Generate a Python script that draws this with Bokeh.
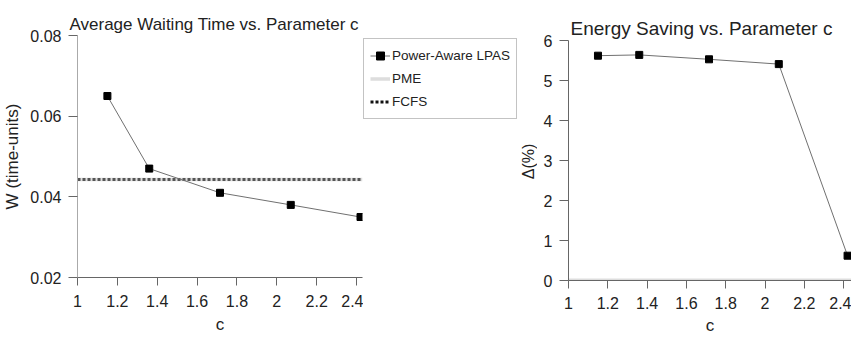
from bokeh.plotting import figure
from bokeh.layouts import row
from bokeh.models import Range1d, Legend, LegendItem, FixedTicker, Title, Label
from bokeh.embed import file_html
from bokeh.resources import INLINE

# ---- data ----
c_values = [1.15, 1.36, 1.715, 2.07, 2.42]
wait_lpas = [0.065, 0.047, 0.041, 0.038, 0.035]
wait_pme = 0.0443
wait_fcfs = 0.0443
energy_lpas = [5.62, 5.64, 5.53, 5.41, 0.62]
energy_pme = 0.0

x_ticks = [1, 1.2, 1.4, 1.6, 1.8, 2, 2.2, 2.4]
x_labels = ["1", "1.2", "1.4", "1.6", "1.8", "2", "2.2", "2.4"]
wait_ticks = [0.02, 0.04, 0.06, 0.08]
wait_labels = ["0.02", "0.04", "0.06", "0.08"]
energy_ticks = [0, 1, 2, 3, 4, 5, 6]
energy_labels = ["0", "1", "2", "3", "4", "5", "6"]
series_names = ["Power-Aware LPAS", "PME", "FCFS"]
titles = ["Average Waiting Time vs. Parameter c", "Energy Saving vs. Parameter c"]

x_min, x_max_left, x_max_right = 1.0, 2.43, 2.44

FONT = "Liberation Sans"
TXT = "#222222"
LPAS_LINE = "#707070"
PME_COLOR = "#dddddd"
FCFS_COLOR = "#555555"


def style(p, yaxis_color, title_text, title_size, title_offset, spacer_size):
    # p.title is a blank spacer next to the frame; the real title sits above it
    p.title.text = " "
    p.title.text_font_size = spacer_size
    p.title.standoff = 0
    t = Title(text=title_text, text_font=FONT, text_font_size=title_size,
              text_font_style="normal", text_color=TXT, align="left",
              vertical_align="top", standoff=0, offset=title_offset)
    p.add_layout(t, "above")
    p.xgrid.visible = False
    p.ygrid.visible = False
    p.outline_line_color = None
    for ax in (p.xaxis[0], p.yaxis[0]):
        ax.major_label_text_font = FONT
        ax.major_label_text_font_size = "16px"
        ax.major_label_text_color = TXT
        ax.axis_label_text_font = FONT
        ax.axis_label_text_font_size = "17px"
        ax.axis_label_text_font_style = "normal"
        ax.axis_label_text_color = TXT
        ax.minor_tick_line_color = None
        ax.major_tick_in = 0
        ax.major_tick_line_color = "#666666"
        ax.axis_line_color = "#666666"
    p.yaxis[0].axis_line_color = yaxis_color
    p.yaxis[0].major_tick_out = 9
    p.yaxis[0].major_label_standoff = 7
    p.xaxis[0].major_tick_out = 8
    p.xaxis[0].major_label_standoff = 9
    p.xaxis[0].axis_label_standoff = 5
    p.xaxis[0].ticker = FixedTicker(ticks=x_ticks)
    p.xaxis[0].major_label_overrides = {t: s for t, s in zip(x_ticks, x_labels)}


# ---- left: waiting time ----
p1 = figure(width=363, height=338, output_backend="svg", toolbar_location=None,
            x_range=Range1d(x_min, x_max_left), y_range=Range1d(wait_ticks[0], wait_ticks[-1]),
            min_border_left=75, min_border_right=1, min_border_top=35, min_border_bottom=61,
            frame_align=False)
style(p1, "#aaaaaa", titles[0], "17px", -8, "3px")
p1.xaxis.axis_label = "c"
p1.yaxis.axis_label = "W (time-units)"
p1.yaxis[0].axis_label_standoff = 5
p1.yaxis[0].ticker = FixedTicker(ticks=wait_ticks)
p1.yaxis[0].major_label_overrides = {t: s for t, s in zip(wait_ticks, wait_labels)}

line_x = [x_min, x_max_left]
p1.line(line_x, [wait_pme, wait_pme], line_color=PME_COLOR, line_width=3.5)
p1.line(line_x, [wait_fcfs, wait_fcfs], line_color=FCFS_COLOR, line_width=3, line_dash="3 2")
p1.line(c_values, wait_lpas, line_color=LPAS_LINE, line_width=1)
p1.scatter(c_values, wait_lpas, marker="square", size=7, fill_color="black", line_color="black")

# ---- legend panel (also carries the right chart's y label) ----
pleg = figure(width=174, height=338, output_backend="svg", toolbar_location=None,
              x_range=Range1d(0, 0.5), y_range=Range1d(0, 1),
              x_axis_type=None, y_axis_type=None,
              min_border_left=0, min_border_right=0, min_border_top=38, min_border_bottom=0,
              frame_align=False)
pleg.xgrid.visible = False
pleg.ygrid.visible = False
pleg.outline_line_color = None
# legend proxies: same data, lying outside this panel's visible range
g_l = pleg.line(c_values, wait_lpas, line_color=LPAS_LINE, line_width=1)
g_s = pleg.scatter(c_values, wait_lpas, marker="square", size=7, fill_color="black",
                   line_color="black")
g_p = pleg.line(line_x, [wait_pme, wait_pme], line_color=PME_COLOR, line_width=3.5)
g_f = pleg.line(line_x, [wait_fcfs, wait_fcfs], line_color="#111111", line_width=3,
                line_dash="3 2")
legend = Legend(items=[
    LegendItem(label=series_names[0], renderers=[g_l, g_s]),
    LegendItem(label=series_names[1], renderers=[g_p]),
    LegendItem(label=series_names[2], renderers=[g_f]),
], location="top_left")
legend.label_text_font = FONT
legend.label_text_font_size = "13.5px"
legend.label_text_color = TXT
legend.glyph_width = 20
legend.glyph_height = 21
legend.label_height = 21
legend.label_standoff = 2
legend.spacing = 2
legend.padding = 6
legend.margin = 0
legend.border_line_color = "#888888"
legend.background_fill_alpha = 1.0
pleg.add_layout(legend, "center")
pleg.add_layout(Label(x=165, y=177, x_units="screen", y_units="screen", text="Δ(%)",
                      angle=90, angle_units="deg", text_align="center",
                      text_baseline="middle", text_font=FONT, text_font_size="16px",
                      text_color=TXT))

# ---- right: energy saving ----
p2 = figure(width=314, height=338, output_backend="svg", toolbar_location=None,
            x_range=Range1d(x_min, x_max_right), y_range=Range1d(energy_ticks[0], energy_ticks[-1]),
            min_border_left=31, min_border_right=0, min_border_top=40, min_border_bottom=58,
            frame_align=False)
style(p2, "#666666", titles[1], "19px", 2, "1px")
p2.xaxis.axis_label = "c"
p2.xaxis[0].major_label_standoff = 8
p2.xaxis[0].axis_label_standoff = 4
p2.yaxis[0].ticker = FixedTicker(ticks=energy_ticks)
p2.yaxis[0].major_label_overrides = {t: s for t, s in zip(energy_ticks, energy_labels)}

p2.line([x_min, x_max_right], [energy_pme, energy_pme], line_color=PME_COLOR, line_width=4)
p2.line(c_values, energy_lpas, line_color=LPAS_LINE, line_width=1)
p2.scatter(c_values, energy_lpas, marker="square", size=7, fill_color="black", line_color="black")

layout = row(p1, pleg, p2)
open("out.html", "w").write(file_html(layout, INLINE))
